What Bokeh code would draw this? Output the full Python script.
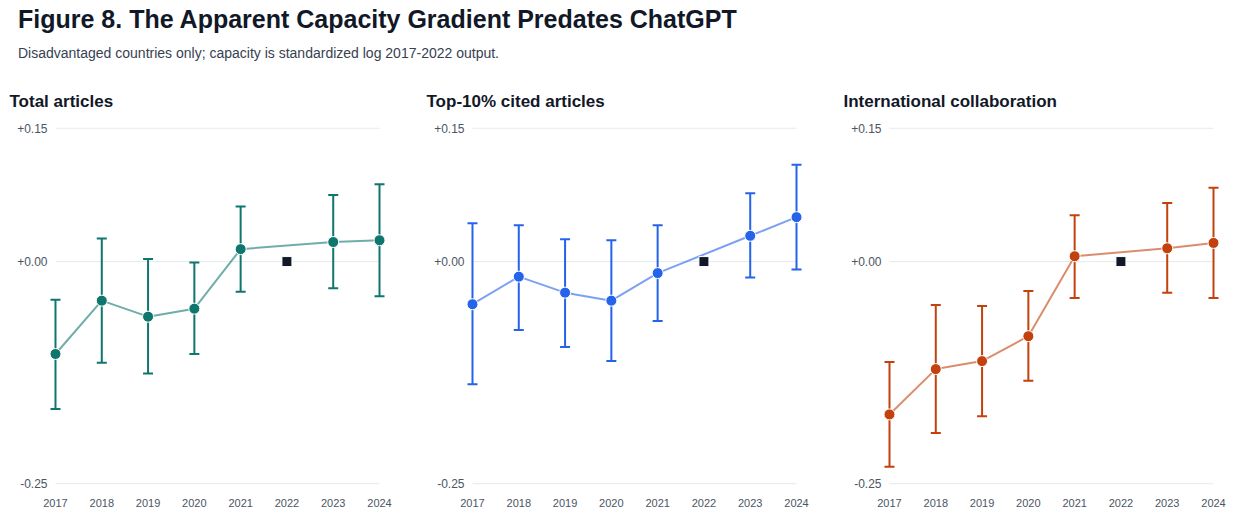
from bokeh.plotting import figure
from bokeh.layouts import column, row
from bokeh.models import Div, Range1d, FixedTicker, Title
from bokeh.embed import file_html
from bokeh.resources import INLINE

# ---------------- data ----------------
title_text = "Figure 8. The Apparent Capacity Gradient Predates ChatGPT"
subtitle_text = "Disadvantaged countries only; capacity is standardized log 2017-2022 output."

panel_titles = ["Total articles", "Top-10% cited articles", "International collaboration"]

years = [2017, 2018, 2019, 2020, 2021, 2023, 2024]
ref_year = [2022]
ref_value = [0.0]

total_est = [-0.104, -0.044, -0.062, -0.053, 0.014, 0.022, 0.024]
total_lo = [-0.166, -0.114, -0.126, -0.104, -0.034, -0.030, -0.039]
total_hi = [-0.043, 0.026, 0.003, -0.001, 0.062, 0.075, 0.087]

top10_est = [-0.048, -0.017, -0.035, -0.044, -0.013, 0.029, 0.050]
top10_lo = [-0.138, -0.077, -0.096, -0.112, -0.067, -0.018, -0.009]
top10_hi = [0.043, 0.041, 0.025, 0.024, 0.041, 0.077, 0.109]

intl_est = [-0.172, -0.121, -0.112, -0.084, 0.006, 0.015, 0.021]
intl_lo = [-0.231, -0.193, -0.174, -0.134, -0.041, -0.035, -0.041]
intl_hi = [-0.113, -0.049, -0.050, -0.033, 0.052, 0.066, 0.083]

xtick_years = [2017, 2018, 2019, 2020, 2021, 2022, 2023, 2024]
ytick_values = [-0.25, 0.0, 0.15]
ytick_labels = ["-0.25", "+0.00", "+0.15"]

colors = ["#0f766e", "#2563eb", "#c2410c"]

FONT = "Liberation Sans"
HEADER_H = 71


def make_panel(ptitle, est, lo, hi, color, width, border_right):
    p = figure(width=width, height=517 - HEADER_H,
               x_range=Range1d(2016.849, 2024.151),
               y_range=Range1d(-0.252, 0.152),
               output_backend="svg", toolbar_location=None,
               min_border_left=48, min_border_right=border_right,
               min_border_top=55, min_border_bottom=32)
    p.title = Title(text=ptitle, text_font=FONT, text_font_size="17px",
                    text_font_style="bold", text_color="#111827",
                    align="left", offset=-39, standoff=32)
    p.outline_line_color = None
    p.background_fill_color = "white"
    p.border_fill_color = "white"
    p.xgrid.visible = False
    p.ygrid.visible = False

    # grid lines spanning the years
    n = len(ytick_values)
    p.segment(x0=[xtick_years[0]] * n, x1=[xtick_years[-1]] * n,
              y0=ytick_values, y1=ytick_values,
              line_color="#e5e9f0", line_width=1)

    # connecting line
    p.line(years, est, line_color=color, line_alpha=0.6, line_width=2)
    # error bars
    p.segment(x0=years, x1=years, y0=lo, y1=hi, line_color=color, line_width=2)
    p.scatter(years, lo, marker="dash", size=10, line_color=color, line_width=2)
    p.scatter(years, hi, marker="dash", size=10, line_color=color, line_width=2)
    # points
    p.scatter(years, est, marker="circle", size=11, fill_color=color,
              line_color="white", line_width=1)
    # reference year
    p.scatter(ref_year, ref_value, marker="square", size=10,
              fill_color="#111827", line_color="white", line_width=1)

    for ax in (p.xaxis, p.yaxis):
        ax.axis_line_color = None
        ax.major_tick_line_color = None
        ax.minor_tick_line_color = None
        ax.major_tick_out = 0
        ax.major_tick_in = 0
        ax.major_label_text_font = FONT
        ax.major_label_text_color = "#4b5563"
    p.yaxis.ticker = FixedTicker(ticks=ytick_values)
    p.yaxis.major_label_overrides = {v: s for v, s in zip(ytick_values, ytick_labels)}
    p.yaxis.major_label_text_font_size = "12px"
    p.yaxis.major_label_standoff = 1
    p.xaxis.ticker = FixedTicker(ticks=xtick_years)
    p.xaxis.major_label_overrides = {y: str(y) for y in xtick_years}
    p.xaxis.major_label_text_font_size = "11px"
    p.xaxis.major_label_standoff = 13
    return p


p1 = make_panel(panel_titles[0], total_est, total_lo, total_hi, colors[0], 417, 31)
p2 = make_panel(panel_titles[1], top10_est, top10_lo, top10_hi, colors[1], 417, 31)
p3 = make_panel(panel_titles[2], intl_est, intl_lo, intl_hi, colors[2], 401, 15)

header = Div(text=f"""<div style="position:relative;width:1235px;height:{HEADER_H}px;font-family:'Liberation Sans',Arial,sans-serif;">
<div style="position:absolute;left:18px;top:5px;font-size:25px;font-weight:bold;color:#111827;white-space:nowrap;line-height:29px;">{title_text}</div>
<div style="position:absolute;left:18px;top:45px;font-size:14px;color:#374151;white-space:nowrap;line-height:16px;">{subtitle_text}</div>
</div>""", width=1235, height=HEADER_H, margin=0)

layout = column(header, row(p1, p2, p3, spacing=0), spacing=0)

open("out.html", "w").write(file_html(layout, INLINE))
